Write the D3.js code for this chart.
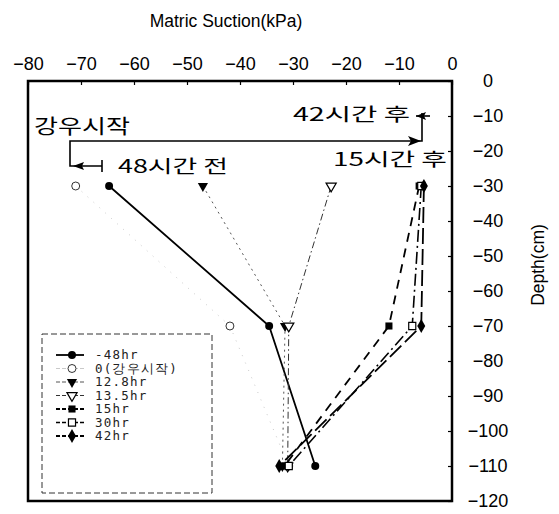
<!DOCTYPE html>
<html>
<head>
<meta charset="utf-8">
<script src="https://cdn.jsdelivr.net/npm/d3@7"></script>
<style>
  html, body { margin: 0; padding: 0; background: #fff; }
  svg { display: block; }
</style>
</head>
<body>
<svg id="chart" width="559" height="514"></svg>
<script>
// ---- data ----
const depths = [-30, -70, -110];
const seriesNames = ["-48hr", "0(강우시작)", "12.8hr", "13.5hr", "15hr", "30hr", "42hr"];
const sMinus48 = [-64.7, -34.5, -25.8];
const s0 = [-71.0, -41.9, -30.8];
const s12_8 = [-47.0, -31.5, -32.0];
const s13_5 = [-22.8, -30.8, -31.0];
const s15 = [-6.2, -11.9, -31.6];
const s30 = [-5.8, -7.5, -30.8];
const s42 = [-5.3, -5.8, -32.6];
const xTicks = [-80, -70, -60, -50, -40, -30, -20, -10, 0];
const yTicks = [0, -10, -20, -30, -40, -50, -60, -70, -80, -90, -100, -110, -120];

const svg = d3.select("#chart");
const L = 28, R = 452, T = 81, B = 501;
const x = d3.scaleLinear().domain([-80, 0]).range([L, R]);
const y = d3.scaleLinear().domain([0, -120]).range([T, B]);
const fmt = v => (v < 0 ? "\u2212" + Math.abs(v) : String(v));
const sans = "Liberation Sans, Arial, sans-serif";

// title
svg.append("text").attr("x", 226).attr("y", 27).attr("text-anchor", "middle")
  .attr("font-family", sans).attr("font-size", 17.5)
  .text("Matric Suction(kPa)");

// top axis
const gx = svg.append("g").attr("transform", `translate(0,${T})`)
  .call(d3.axisTop(x).tickValues(xTicks).tickFormat(fmt).tickSize(-4).tickPadding(11));
gx.select(".domain").remove();
gx.selectAll("text").attr("font-family", sans).attr("font-size", 18).attr("fill", "#000");
gx.selectAll("line").attr("stroke", "#000").attr("stroke-width", 1.2);

// right axis
const gy = svg.append("g").attr("transform", `translate(${R},0)`)
  .call(d3.axisRight(y).tickValues(yTicks).tickFormat(fmt).tickSize(-4).tickPadding(36));
gy.select(".domain").remove();
gy.selectAll("text").attr("font-family", sans).attr("font-size", 18)
  .attr("text-anchor", "middle").attr("fill", "#000");
gy.selectAll("line").attr("stroke", "#000").attr("stroke-width", 1.2);

svg.append("text").attr("transform", `translate(544,265) rotate(-90)`).attr("text-anchor", "middle")
  .attr("font-family", sans).attr("font-size", 17.5)
  .text("Depth(cm)");

// plot box
svg.append("rect").attr("x", L).attr("y", T).attr("width", R - L).attr("height", B - T)
  .attr("fill", "none").attr("stroke", "#000").attr("stroke-width", 2.5);

// series definitions (styles)
const series = [
  { name: seriesNames[0], vals: sMinus48, dash: null, sw: 1.8, stroke: "#000", marker: "circle", fill: "#000" },
  { name: seriesNames[1], vals: s0, dash: "1,7", sw: 0.8, stroke: "#bbb", marker: "circle", fill: "#fff" },
  { name: seriesNames[2], vals: s12_8, dash: "2,4", sw: 1.0, stroke: "#555", marker: "triangle", fill: "#000" },
  { name: seriesNames[3], vals: s13_5, dash: "7,3,1.5,3", sw: 1.0, stroke: "#333", marker: "triangle", fill: "#fff" },
  { name: seriesNames[4], vals: s15, dash: "9,7", sw: 1.8, stroke: "#000", marker: "square", fill: "#000" },
  { name: seriesNames[5], vals: s30, dash: "12,4,2,4", sw: 1.6, stroke: "#000", marker: "square", fill: "#fff" },
  { name: seriesNames[6], vals: s42, dash: "16,5", sw: 1.8, stroke: "#000", marker: "diamond", fill: "#000" }
];

const symType = { circle: d3.symbolCircle, triangle: d3.symbolTriangle, square: d3.symbolSquare, diamond: d3.symbolDiamond };
const symSize = { circle: 50, triangle: 45, square: 50, diamond: 55 };
function drawMarker(g, s, cx, cy) {
  const rot = s.marker === "triangle" ? 180 : 0;
  g.append("path").attr("d", d3.symbol().type(symType[s.marker]).size(symSize[s.marker])())
    .attr("transform", `translate(${cx},${cy}) rotate(${rot})`)
    .attr("fill", s.fill).attr("stroke", s.fill === "#fff" ? "#000" : "none")
    .attr("stroke-width", s.name === "0(강우시작)" ? 0.8 : 1.2);
}

const line = d3.line().x(d => x(d[0])).y(d => y(d[1]));
const plot = svg.append("g");
series.forEach(s => {
  const pts = s.vals.map((v, i) => [v, depths[i]]);
  plot.append("path").attr("d", line(pts)).attr("fill", "none")
    .attr("stroke", s.stroke).attr("stroke-width", s.sw)
    .attr("stroke-dasharray", s.dash);
});
series.forEach(s => {
  s.vals.forEach((v, i) => drawMarker(plot, s, x(v), y(depths[i])));
});

// annotations
const kfont = "Noto Sans CJK KR, sans-serif";
const ann = svg.append("g").attr("stroke", "#000").attr("fill", "none").attr("stroke-width", 1.6);
ann.append("path").attr("d", `M422,113 L422,141 L70,141 L70,166 L102,166`);
ann.append("path").attr("d", `M102,160 L102,172`);
ann.append("path").attr("d", `M416,116 L430,116`);
svg.append("path").attr("d", `M73,166 L84,162 L82,166 L84,170 Z`).attr("fill", "#000");
svg.append("path").attr("d", `M421,141 L408,136 L411,141 L408,146 Z`).attr("fill", "#000");
svg.append("path").attr("d", `M416,116 L426,112 L424,116 L426,120 Z`).attr("fill", "#000");

function ktext(t, x0, yb, size, len) {
  svg.append("text").attr("x", x0).attr("y", yb).attr("font-family", kfont).attr("font-size", size)
    .attr("textLength", len).attr("lengthAdjust", "spacingAndGlyphs").text(t);
}
ktext("강우시작", 34, 134, 20, 96);
ktext("48시간  전", 118, 173, 18, 110);
ktext("42시간  후", 293, 121, 18, 117);
ktext("15시간  후", 333, 166, 18, 114);

// legend
const lg = svg.append("g");
lg.append("rect").attr("x", 42).attr("y", 334).attr("width", 170).attr("height", 159)
  .attr("fill", "#fff").attr("stroke", "#333").attr("stroke-width", 1).attr("stroke-dasharray", "6,3");
series.forEach((s, i) => {
  const yy = 355 + i * 13.5;
  lg.append("line").attr("x1", 56).attr("x2", 84).attr("y1", yy).attr("y2", yy)
    .attr("stroke", s.stroke).attr("stroke-width", s.sw)
    .attr("stroke-dasharray", s.dash ? "4,2" : null);
  drawMarker(lg, s, 72, yy);
  lg.append("text").attr("x", 95).attr("y", yy + 4).attr("font-family", "DejaVu Sans Mono, monospace")
    .attr("font-size", 12.5).attr("letter-spacing", 1.2).attr("fill", "#222").text(s.name);
});
</script>
</body>
</html>
